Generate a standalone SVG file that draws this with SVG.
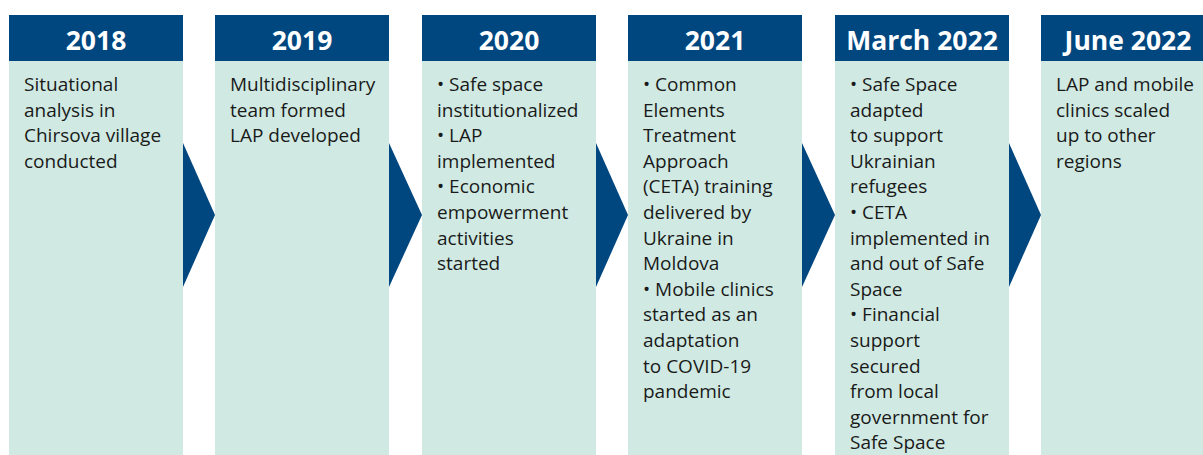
<svg xmlns="http://www.w3.org/2000/svg" width="1203" height="455" viewBox="0 0 1203 455">
<style>
.body{fill:#d0eae3}
.head{fill:#00467f}
.arrow{fill:#00467f}
.ht{font-family:"Open Sans","Liberation Sans",sans-serif;font-weight:700;font-size:26.5px;fill:#fff;text-anchor:middle}
.bt{font-family:"Open Sans","Liberation Sans",sans-serif;font-size:19px;fill:#1a1a1a}
</style>
<rect width="1203" height="455" fill="#fff"/>
<g id="n2018">
<rect class="body" x="9" y="61" width="174" height="394"/>
<rect class="head" x="9" y="15" width="174" height="46"/>
<text class="ht" x="96" y="50">2018</text>
<text class="bt"><tspan x="24" y="91">Situational</tspan><tspan x="24" y="116.6">analysis in</tspan><tspan x="24" y="142.2">Chirsova village</tspan><tspan x="24" y="167.8">conducted</tspan></text>
</g>
<g id="n2019">
<rect class="body" x="215" y="61" width="174" height="394"/>
<rect class="head" x="215" y="15" width="174" height="46"/>
<text class="ht" x="302" y="50">2019</text>
<text class="bt"><tspan x="230" y="91">Multidisciplinary</tspan><tspan x="230" y="116.6">team formed</tspan><tspan x="230" y="142.2">LAP developed</tspan></text>
</g>
<g id="n2020">
<rect class="body" x="422" y="61" width="174" height="394"/>
<rect class="head" x="422" y="15" width="174" height="46"/>
<text class="ht" x="509" y="50">2020</text>
<text class="bt"><tspan x="437" y="91">• Safe space</tspan><tspan x="437" y="116.6">institutionalized</tspan><tspan x="437" y="142.2">• LAP</tspan><tspan x="437" y="167.8">implemented</tspan><tspan x="437" y="193.4">• Economic</tspan><tspan x="437" y="219">empowerment</tspan><tspan x="437" y="244.6">activities</tspan><tspan x="437" y="270.2">started</tspan></text>
</g>
<g id="n2021">
<rect class="body" x="628" y="61" width="174" height="394"/>
<rect class="head" x="628" y="15" width="174" height="46"/>
<text class="ht" x="715" y="50">2021</text>
<text class="bt"><tspan x="643" y="91">• Common</tspan><tspan x="643" y="116.6">Elements</tspan><tspan x="643" y="142.2">Treatment</tspan><tspan x="643" y="167.8">Approach</tspan><tspan x="643" y="193.4">(CETA) training</tspan><tspan x="643" y="219">delivered by</tspan><tspan x="643" y="244.6">Ukraine in</tspan><tspan x="643" y="270.2">Moldova</tspan><tspan x="643" y="295.8">• Mobile clinics</tspan><tspan x="643" y="321.4">started as an</tspan><tspan x="643" y="347">adaptation</tspan><tspan x="643" y="372.6">to COVID-19</tspan><tspan x="643" y="398.2">pandemic</tspan></text>
</g>
<g id="nMarch2022">
<rect class="body" x="835" y="61" width="174" height="394"/>
<rect class="head" x="835" y="15" width="174" height="46"/>
<text class="ht" x="922" y="50">March 2022</text>
<text class="bt"><tspan x="850" y="91">• Safe Space</tspan><tspan x="850" y="116.6">adapted</tspan><tspan x="850" y="142.2">to support</tspan><tspan x="850" y="167.8">Ukrainian</tspan><tspan x="850" y="193.4">refugees</tspan><tspan x="850" y="219">• CETA</tspan><tspan x="850" y="244.6">implemented in</tspan><tspan x="850" y="270.2">and out of Safe</tspan><tspan x="850" y="295.8">Space</tspan><tspan x="850" y="321.4">• Financial</tspan><tspan x="850" y="347">support</tspan><tspan x="850" y="372.6">secured</tspan><tspan x="850" y="398.2">from local</tspan><tspan x="850" y="423.8">government for</tspan><tspan x="850" y="449.4">Safe Space</tspan></text>
</g>
<g id="nJune2022">
<rect class="body" x="1041" y="61" width="174" height="394"/>
<rect class="head" x="1041" y="15" width="174" height="46"/>
<text class="ht" x="1128" y="50">June 2022</text>
<text class="bt"><tspan x="1056" y="91">LAP and mobile</tspan><tspan x="1056" y="116.6">clinics scaled</tspan><tspan x="1056" y="142.2">up to other</tspan><tspan x="1056" y="167.8">regions</tspan></text>
</g>
<g id="connectors">
<polygon class="arrow" points="183,143 215,215 183,287"/>
<polygon class="arrow" points="389,143 422,215 389,287"/>
<polygon class="arrow" points="596,143 628,215 596,287"/>
<polygon class="arrow" points="802,143 835,215 802,287"/>
<polygon class="arrow" points="1009,143 1041,215 1009,287"/>
</g>
</svg>
